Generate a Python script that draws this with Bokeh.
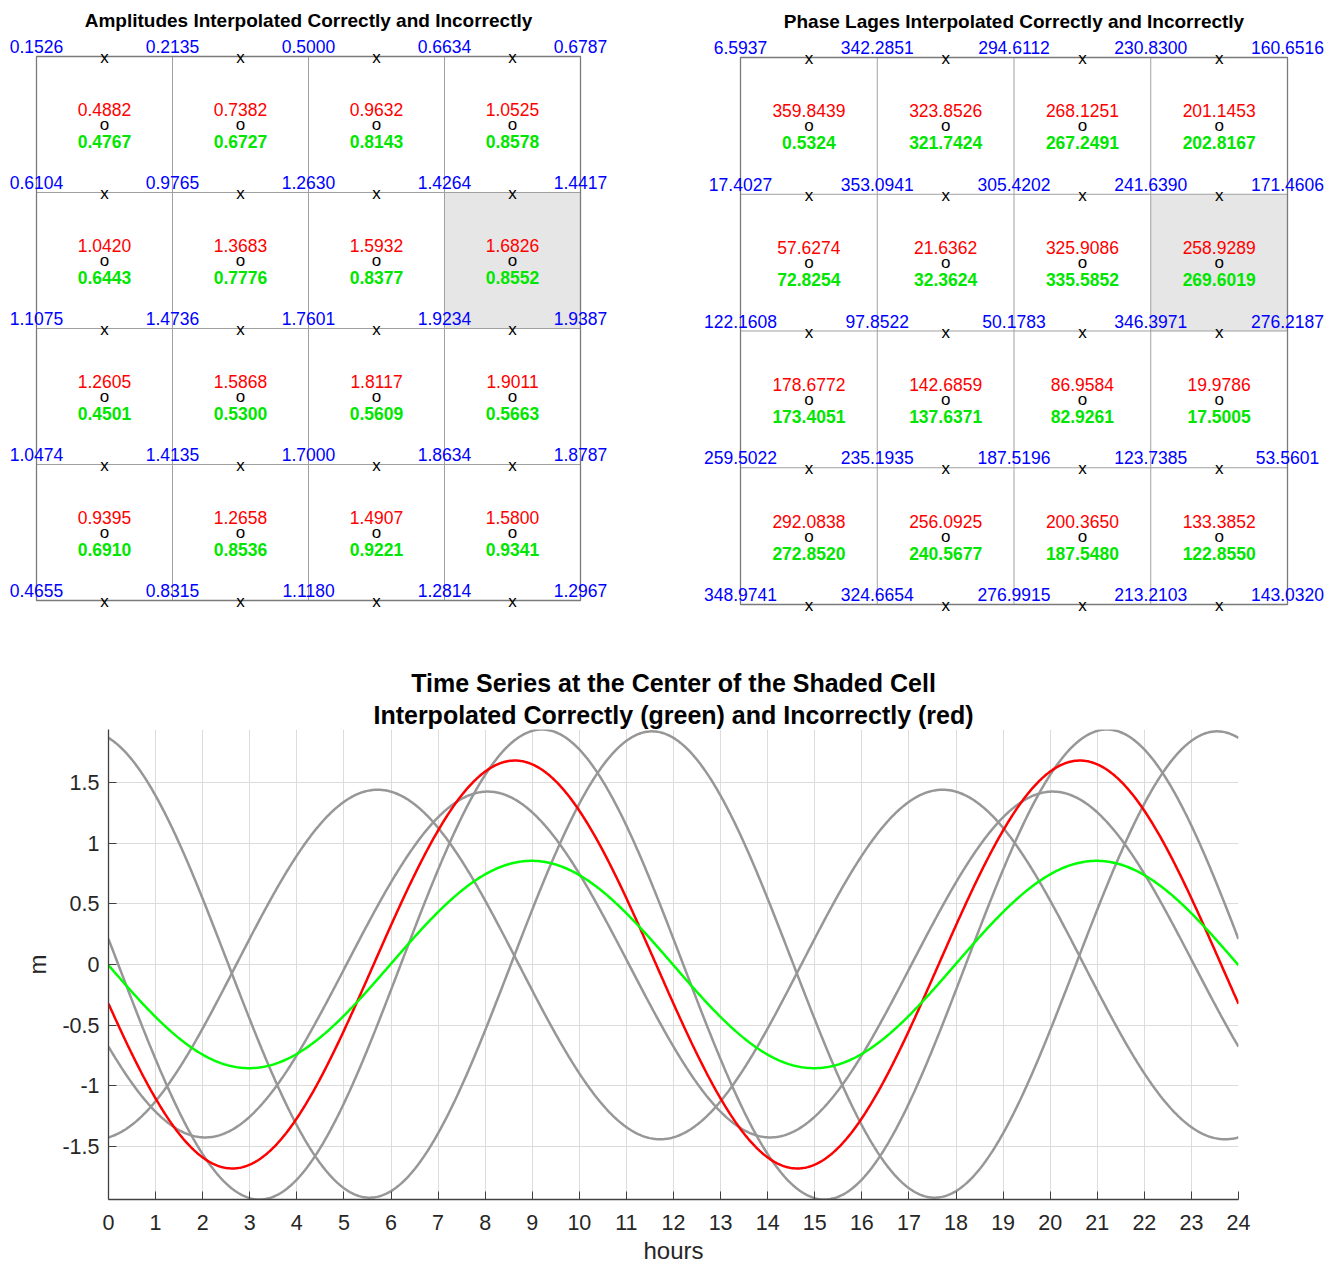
import numpy as np
from bokeh.plotting import figure
from bokeh.models import Range1d, FixedTicker, Title
from bokeh.layouts import column, row
from bokeh.embed import file_html
from bokeh.resources import INLINE
from bokeh.core.properties import value

FONT = "Liberation Sans"

# ---------------- data ----------------
amp_corner = [
    [0.1526, 0.2135, 0.5000, 0.6634, 0.6787],
    [0.6104, 0.9765, 1.2630, 1.4264, 1.4417],
    [1.1075, 1.4736, 1.7601, 1.9234, 1.9387],
    [1.0474, 1.4135, 1.7000, 1.8634, 1.8787],
    [0.4655, 0.8315, 1.1180, 1.2814, 1.2967],
]
amp_red = [
    [0.4882, 0.7382, 0.9632, 1.0525],
    [1.0420, 1.3683, 1.5932, 1.6826],
    [1.2605, 1.5868, 1.8117, 1.9011],
    [0.9395, 1.2658, 1.4907, 1.5800],
]
amp_green = [
    [0.4767, 0.6727, 0.8143, 0.8578],
    [0.6443, 0.7776, 0.8377, 0.8552],
    [0.4501, 0.5300, 0.5609, 0.5663],
    [0.6910, 0.8536, 0.9221, 0.9341],
]
phase_corner = [
    [6.5937, 342.2851, 294.6112, 230.8300, 160.6516],
    [17.4027, 353.0941, 305.4202, 241.6390, 171.4606],
    [122.1608, 97.8522, 50.1783, 346.3971, 276.2187],
    [259.5022, 235.1935, 187.5196, 123.7385, 53.5601],
    [348.9741, 324.6654, 276.9915, 213.2103, 143.0320],
]
phase_red = [
    [359.8439, 323.8526, 268.1251, 201.1453],
    [57.6274, 21.6362, 325.9086, 258.9289],
    [178.6772, 142.6859, 86.9584, 19.9786],
    [292.0838, 256.0925, 200.3650, 133.3852],
]
phase_green = [
    [0.5324, 321.7424, 267.2491, 202.8167],
    [72.8254, 32.3624, 335.5852, 269.6019],
    [173.4051, 137.6371, 82.9261, 17.5005],
    [272.8520, 240.5677, 187.5480, 122.8550],
]
shaded_row, shaded_col = 1, 3
omega_deg_per_hour = 30.0          # constituent speed (deg/hour)
hour_ticks = list(range(0, 25))
m_ticks = [-1.5, -1, -0.5, 0, 0.5, 1, 1.5]
m_tick_labels = ["-1.5", "-1", "-0.5", "0", "0.5", "1", "1.5"]

title_amp = "Amplitudes Interpolated Correctly and Incorrectly"
title_phase = "Phase Lages Interpolated Correctly and Incorrectly"
title_ts1 = "Time Series at the Center of the Shaded Cell"
title_ts2 = "Interpolated Correctly (green) and Incorrectly (red)"


def fmt(v):
    return f"{v:.4f}"


def grid_panel(title, corner, red, green, width, height, left_px, top_px, cell_px):
    n = len(red)
    p = figure(width=width, height=height, output_backend="svg", toolbar_location=None,
               x_range=Range1d(-left_px / cell_px, (width - left_px) / cell_px),
               y_range=Range1d((height - top_px) / cell_px, -top_px / cell_px),
               min_border=0)
    p.axis.visible = False
    p.grid.visible = False
    p.outline_line_color = None
    p.background_fill_color = "white"
    p.border_fill_color = "white"

    # shaded cell
    p.quad(left=[shaded_col], right=[shaded_col + 1], top=[shaded_row], bottom=[shaded_row + 1],
           fill_color="#e6e6e6", line_color=None)
    # inner lines
    inner = list(range(1, n))
    p.segment(x0=inner, y0=[0] * len(inner), x1=inner, y1=[n] * len(inner),
              line_color="#a0a0a0", line_width=1)
    p.segment(x0=[0] * len(inner), y0=inner, x1=[n] * len(inner), y1=inner,
              line_color="#a0a0a0", line_width=1)
    # outer box
    p.quad(left=[0], right=[n], top=[0], bottom=[n], fill_color=None,
           line_color="#7a7a7a", line_width=1.3)

    # corner values (blue)
    cx = [c for r in range(n + 1) for c in range(n + 1)]
    cy = [r for r in range(n + 1) for c in range(n + 1)]
    ct = [fmt(corner[r][c]) for r in range(n + 1) for c in range(n + 1)]
    p.text(cx, cy, text=ct, text_color="blue", text_font=value(FONT), text_font_size="17.5px",
           text_align="center", text_baseline="middle", y_offset=-10)

    # 'x' marks at edge midpoints
    xx = [c + 0.5 for r in range(n + 1) for c in range(n)]
    xy = [r for r in range(n + 1) for c in range(n)]
    p.text(xx, xy, text=["x"] * len(xx), text_color="black", text_font=value(FONT),
           text_font_size="17px", text_align="center", text_baseline="middle", y_offset=1)

    # cell centres
    ox = [c + 0.5 for r in range(n) for c in range(n)]
    oy = [r + 0.5 for r in range(n) for c in range(n)]
    p.text(ox, oy, text=["o"] * len(ox), text_color="black", text_font=value(FONT),
           text_font_size="17px", text_align="center", text_baseline="middle", y_offset=0)
    p.text(ox, oy, text=[fmt(red[r][c]) for r in range(n) for c in range(n)],
           text_color="red", text_font=value(FONT), text_font_size="17.5px",
           text_align="center", text_baseline="middle", y_offset=-15)
    p.text(ox, oy, text=[fmt(green[r][c]) for r in range(n) for c in range(n)],
           text_color="#00e600", text_font=value(FONT), text_font_size="17.5px",
           text_font_style="bold", text_align="center", text_baseline="middle", y_offset=17)

    # title
    p.text([n / 2], [0], text=[title], text_color="black", text_font=value(FONT),
           text_font_size="19px", text_font_style="bold", text_align="center",
           text_baseline="middle", y_offset=-36)
    return p


p1 = grid_panel(title_amp, amp_corner, amp_red, amp_green,
                width=669, height=635, left_px=36, top_px=56, cell_px=136)
p2 = grid_panel(title_phase, phase_corner, phase_red, phase_green,
                width=669, height=635, left_px=71, top_px=57, cell_px=136.75)

# ---------------- time series ----------------
r0, c0 = shaded_row, shaded_col
corner_amps = [amp_corner[r0][c0], amp_corner[r0][c0 + 1], amp_corner[r0 + 1][c0], amp_corner[r0 + 1][c0 + 1]]
corner_phs = [phase_corner[r0][c0], phase_corner[r0][c0 + 1], phase_corner[r0 + 1][c0], phase_corner[r0 + 1][c0 + 1]]
ymax = max(corner_amps)

p3 = figure(width=1338, height=631, output_backend="svg", toolbar_location=None,
            x_range=Range1d(0, 24), y_range=Range1d(-ymax, ymax),
            min_border_left=108, min_border_right=100, min_border_top=94, min_border_bottom=66)
p3.outline_line_color = None

t = np.linspace(0, 24, 961)
for A, ph in zip(corner_amps, corner_phs):
    p3.line(t, A * np.cos(np.radians(omega_deg_per_hour * t - ph)), line_color="#979797", line_width=2.5)
Ar, pr = amp_red[r0][c0], phase_red[r0][c0]
Ag, pg = amp_green[r0][c0], phase_green[r0][c0]
p3.line(t, Ar * np.cos(np.radians(omega_deg_per_hour * t - pr)), line_color="#ff0000", line_width=2.5)
p3.line(t, Ag * np.cos(np.radians(omega_deg_per_hour * t - pg)), line_color="#00ff00", line_width=2.5)

p3.add_layout(Title(text=title_ts2, align="center", text_font=FONT, text_font_size="25px",
                    text_font_style="bold", text_color="black", standoff=2), "above")
p3.add_layout(Title(text=title_ts1, align="center", text_font=FONT, text_font_size="25px",
                    text_font_style="bold", text_color="black", standoff=2), "above")

p3.xaxis.ticker = FixedTicker(ticks=hour_ticks)
p3.yaxis.ticker = FixedTicker(ticks=m_ticks)
p3.yaxis.major_label_overrides = dict(zip(m_ticks, m_tick_labels))
p3.xaxis.axis_label = "hours"
p3.yaxis.axis_label = "m"
for ax in (p3.xaxis, p3.yaxis):
    ax.major_label_text_font = FONT
    ax.major_label_text_font_size = "21.5px"
    ax.major_label_text_color = "#262626"
    ax.axis_label_text_font = FONT
    ax.axis_label_text_font_size = "24px"
    ax.axis_label_text_font_style = "normal"
    ax.axis_label_text_color = "#262626"
    ax.axis_line_color = "#404040"
    ax.axis_line_width = 1.3
    ax.major_tick_line_color = "#404040"
    ax.major_tick_in = 8
    ax.major_tick_out = 0
    ax.minor_tick_line_color = None
p3.xaxis.major_label_standoff = 15
p3.yaxis.major_label_standoff = 9
p3.xaxis.axis_label_standoff = 4
p3.yaxis.axis_label_standoff = 8
p3.yaxis.major_label_orientation = "horizontal"
p3.grid.grid_line_color = "#dcdcdc"
p3.grid.grid_line_width = 1

layout = column(row(p1, p2, spacing=0), p3, spacing=0)
open("out.html", "w").write(file_html(layout, INLINE))
